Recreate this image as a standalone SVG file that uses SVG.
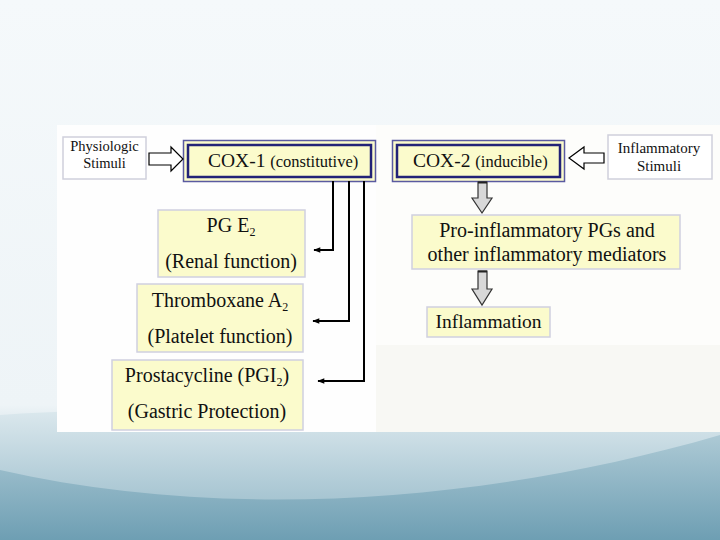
<svg xmlns="http://www.w3.org/2000/svg" width="720" height="540" viewBox="0 0 720 540">
<defs>
<linearGradient id="bg" x1="0" y1="0" x2="0" y2="1">
<stop offset="0" stop-color="#f5f9fb"/>
<stop offset="0.75" stop-color="#eef4f7"/>
<stop offset="1" stop-color="#7eaabc"/>
</linearGradient>
<linearGradient id="w1" x1="0" y1="0" x2="0" y2="1">
<stop offset="0" stop-color="#e4eef2"/>
<stop offset="1" stop-color="#8fb5c5"/>
</linearGradient>
<linearGradient id="w2" x1="0" y1="0" x2="0" y2="1">
<stop offset="0" stop-color="#a9c7d3"/>
<stop offset="1" stop-color="#6a9cb1"/>
</linearGradient>
<marker id="ah" viewBox="0 0 10 10" refX="9" refY="5" markerWidth="9" markerHeight="7" orient="auto" markerUnits="userSpaceOnUse">
<path d="M0,1 L10,5 L0,9 Z" fill="#000"/>
</marker>
</defs>
<style>
.t{font-family:"Liberation Serif","Times New Roman",serif;fill:#111;}
.box{fill:#fbfbcc;stroke:#cfd0e0;stroke-width:1.5;}
.wbox{fill:#ffffff;stroke:#cfd0dc;stroke-width:1.5;}
.conn{fill:none;stroke:#000;stroke-width:2;}
.hollow{fill:#fff;stroke:#000;stroke-width:1.2;}
.gray{fill:#d8d8d8;stroke:#333;stroke-width:1.2;}
</style>
<rect x="0" y="0" width="720" height="540" fill="url(#bg)"/>
<path d="M0,415 C200,400 480,425 720,395 L720,540 L0,540 Z" fill="url(#w1)"/>
<path d="M0,470 C220,520 480,505 720,435 L720,540 L0,540 Z" fill="url(#w2)" opacity="0.9"/>
<rect x="57" y="125" width="319" height="307" fill="#fefefe"/>
<rect x="376" y="125" width="344" height="220" fill="#fdfdfb"/>
<rect x="376" y="345" width="344" height="87" fill="#f8f8f4"/>

<g id="physio">
<rect class="wbox" x="63" y="137" width="83" height="42"/>
<text class="t" x="104.5" y="151" font-size="14.5" text-anchor="middle">Physiologic</text>
<text class="t" x="104.5" y="168" font-size="14.5" text-anchor="middle">Stimuli</text>
</g>
<g id="cox1">
<rect x="183.5" y="140.5" width="192" height="41" fill="#fbfbcc" stroke="#5a5aa0" stroke-width="1.5"/>
<rect x="188" y="145" width="183" height="32" fill="#fbfbcc" stroke="#222277" stroke-width="2.5"/>
<text class="t" x="208" y="167"><tspan font-size="19.5">COX-1 </tspan><tspan font-size="16.5">(constitutive)</tspan></text>
</g>
<g id="cox2">
<rect x="392.5" y="140.5" width="172" height="41" fill="#fbfbcc" stroke="#5a5aa0" stroke-width="1.5"/>
<rect x="397" y="145" width="163" height="32" fill="#fbfbcc" stroke="#222277" stroke-width="2.5"/>
<text class="t" x="413" y="167"><tspan font-size="19.5">COX-2 </tspan><tspan font-size="16.5">(inducible)</tspan></text>
</g>
<g id="inflstim">
<rect class="wbox" x="608" y="135" width="104" height="44"/>
<text class="t" x="659" y="153" font-size="15" text-anchor="middle">Inflammatory</text>
<text class="t" x="659" y="171" font-size="15" text-anchor="middle">Stimuli</text>
</g>
<g id="pge2">
<rect class="box" x="158" y="210" width="147" height="67"/>
<text class="t" x="231" y="232" font-size="20" text-anchor="middle">PG E<tspan font-size="12" dy="4">2</tspan></text>
<text class="t" x="231" y="268" font-size="20" text-anchor="middle">(Renal function)</text>
</g>
<g id="txa2">
<rect class="box" x="137" y="284" width="166" height="68"/>
<text class="t" x="220" y="307" font-size="20" text-anchor="middle">Thromboxane A<tspan font-size="12" dy="4">2</tspan></text>
<text class="t" x="220" y="343" font-size="20" text-anchor="middle">(Platelet function)</text>
</g>
<g id="pgi2">
<rect class="box" x="112" y="360" width="191" height="70"/>
<text class="t" x="207" y="382" font-size="20" text-anchor="middle">Prostacycline (PGI<tspan font-size="12" dy="4">2</tspan><tspan dy="-4">)</tspan></text>
<text class="t" x="207" y="418" font-size="20" text-anchor="middle">(Gastric Protection)</text>
</g>
<g id="proinfl">
<rect class="box" x="412" y="215" width="268" height="54"/>
<text class="t" x="547" y="237" font-size="20" text-anchor="middle">Pro-inflammatory PGs and</text>
<text class="t" x="547" y="261" font-size="20" text-anchor="middle">other inflammatory mediators</text>
</g>
<g id="inflam">
<rect class="box" x="427" y="307" width="123" height="30"/>
<text class="t" x="488.5" y="328" font-size="19.5" text-anchor="middle">Inflammation</text>
</g>

<g id="connectors">
<path class="hollow" d="M149,153 L171,153 L171,147 L183,159 L171,171 L171,165 L149,165 Z"/>
<path class="hollow" d="M604,153 L584,153 L584,147 L569,158 L584,169 L584,163 L604,163 Z"/>
<path class="conn" d="M333,181 L333,250 L314,250" marker-end="url(#ah)"/>
<path class="conn" d="M349,181 L349,321 L313,321" marker-end="url(#ah)"/>
<path class="conn" d="M364,181 L364,381 L318,381" marker-end="url(#ah)"/>
<path class="gray" d="M478,182 L487,182 L487,198 L492,198 L482,213 L472,198 L478,198 Z"/>
<line x1="478" y1="182.5" x2="487" y2="182.5" stroke="#222" stroke-width="2"/>
<path class="gray" d="M478,271 L487,271 L487,289 L492,289 L482,305 L472,289 L478,289 Z"/>
<line x1="478" y1="271.5" x2="487" y2="271.5" stroke="#222" stroke-width="2"/>
</g>
</svg>
